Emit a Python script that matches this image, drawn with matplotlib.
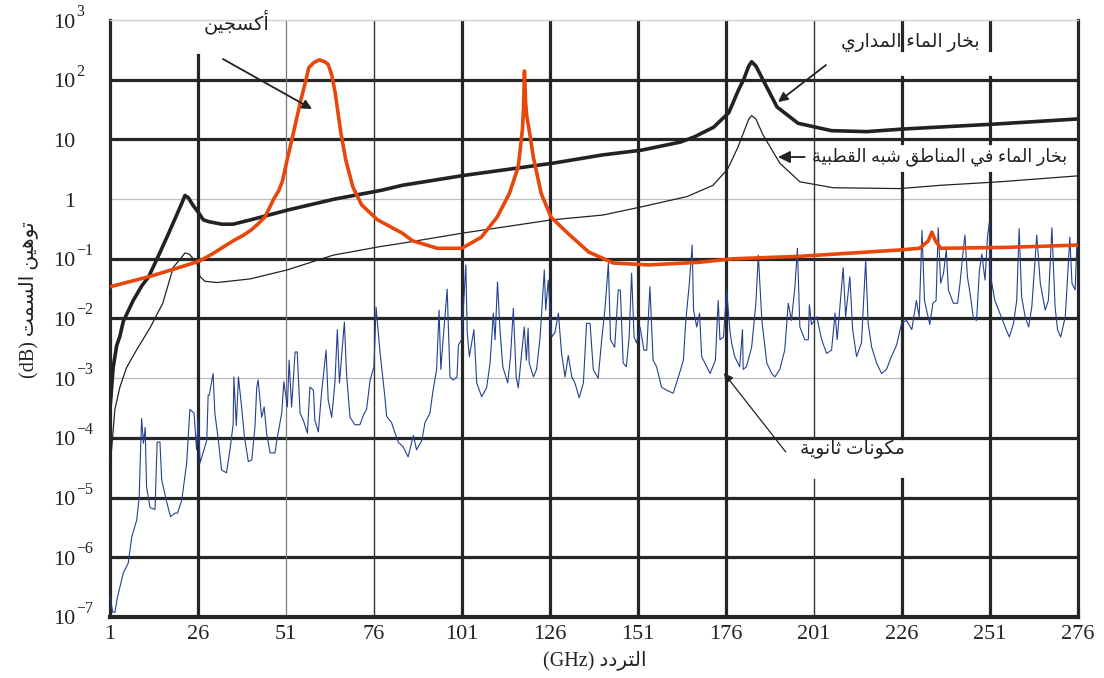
import matplotlib
matplotlib.use("Agg")
import matplotlib.pyplot as plt
from matplotlib.transforms import blended_transform_factory, offset_copy
from matplotlib.ticker import NullLocator

plt.rcParams['font.family'] = ['Liberation Serif', 'DejaVu Sans']

# ---------------- data ----------------
oxy_f = [1, 12, 19.5, 26.5, 30, 33, 36, 39, 41, 43, 45, 46.5, 47.5, 49, 50, 51.5, 53, 55, 56.5, 57.5,
         59, 60.5, 62, 63, 64, 65, 66.5, 68, 70, 72.5, 77, 84, 87, 94, 101, 106.5, 111, 114.5, 117,
         118.2, 118.5, 118.75, 119.1, 119.4, 120.3, 121.3, 123.5, 126.3, 131, 137, 144, 154, 168,
         178, 197, 225, 231, 233.5, 234.5, 235.5, 237, 255, 270, 276]
oxy_v = [0.034, 0.05, 0.068, 0.092, 0.12, 0.155, 0.2, 0.25, 0.3, 0.38, 0.5, 0.75, 1.0, 1.4, 2.0, 5,
         12, 40, 90, 160, 195, 215, 200, 180, 120, 60, 14, 4.5, 1.6, 0.8, 0.45, 0.27, 0.2, 0.15,
         0.15, 0.23, 0.5, 1.25, 3.5, 15, 35, 140, 40, 25, 12, 5, 1.25, 0.5, 0.27, 0.13, 0.085,
         0.079, 0.087, 0.1, 0.11, 0.14, 0.15, 0.2, 0.28, 0.2, 0.15, 0.155, 0.165, 0.17]

trop_f = [1, 1.9, 2.9, 3.8, 4.8, 7.6, 10, 12, 15, 17.7, 20, 21.4, 22.3, 23.3, 24.5, 26.2, 27.5, 29,
          32.7, 36, 41, 51.7, 64.8, 78, 84, 101.7, 126.9, 141, 152, 163, 167, 172.5, 176.8, 179.6,
          181, 182.5, 183.3, 184.5, 186.5, 190.5, 196.5, 206, 216, 227, 252, 276]
trop_v = [3e-4, 1.5e-3, 3.5e-3, 5e-3, 9e-3, 0.02, 0.035, 0.05, 0.12, 0.27, 0.55, 0.85, 1.15, 1.05,
          0.8, 0.59, 0.45, 0.42, 0.38, 0.38, 0.45, 0.66, 1.0, 1.4, 1.7, 2.5, 4.0, 5.5, 6.6, 9, 11,
          16, 28, 68, 100, 170, 200, 170, 100, 35, 18.6, 14, 13.5, 15, 18, 22]

pol_f = [1, 2.4, 3.8, 5.7, 8.6, 12.4, 16, 19, 21, 22.3, 23.5, 25.7, 26.6, 28, 31.4, 40.8, 51.3,
         64.4, 77.7, 83.4, 101.3, 126.6, 141, 151.9, 164.9, 172.3, 176.5, 179.4, 181, 182.5, 183.3,
         184.5, 186.5, 191.3, 197, 206.4, 225.4, 236.8, 253.8, 276]
pol_v = [3e-5, 3e-4, 7e-4, 1.5e-3, 3e-3, 7e-3, 0.018, 0.072, 0.1, 0.125, 0.12, 0.085, 0.05, 0.042,
         0.04, 0.046, 0.065, 0.115, 0.16, 0.18, 0.27, 0.45, 0.54, 0.74, 1.1, 1.7, 3.2, 7.4, 13, 22,
         25, 22, 12, 4, 1.95, 1.55, 1.5, 1.7, 1.95, 2.45]

minor_f = [1.0, 1.8, 2.4, 3.1, 3.6, 4.8, 6.2, 7.2, 8.6, 9.3, 9.7, 10.0, 10.5, 11.0, 11.4, 12.4, 13.8,
           14.4, 15.2, 15.7, 17.1, 18.2, 19.5, 20.2, 21.4, 22.8, 23.7, 24.9, 25.6, 26.1, 26.6, 28.5,
           28.9, 29.2, 30.3, 30.8, 31.8, 32.7, 34.1, 35.1, 36.0, 36.2, 36.9, 37.5, 38.4, 39.2, 40.3,
           41.3, 42.2, 42.7, 43.1, 44.1, 44.8, 45.5, 46.5, 47.9, 48.4, 49.8, 50.4, 51.4, 51.9, 52.6,
           53.6, 54.2, 55.0, 55.9, 57.1, 57.8, 58.8, 59.2, 60.2, 61.1, 62.4, 63.0, 64.0, 64.9, 65.6,
           66.2, 67.6, 68.2, 69.2, 70.6, 72.0, 73.0, 73.9, 74.9, 76.0, 76.6, 77.7, 78.6, 79.1, 79.6,
           81.0, 82.0, 82.9, 84.3, 85.7, 87.2, 88.1, 89.6, 90.5, 91.9, 92.8, 93.8, 94.5, 95.0, 95.7,
           96.8, 97.6, 98.5, 99.6, 100.0, 100.9, 102.1, 102.5, 103.1, 104.4, 105.2, 106.6, 108.0,
           109.0, 109.9, 110.4, 111.1, 111.8, 112.6, 114.0, 114.8, 115.6, 116.4, 117.0, 118.7, 119.3,
           119.8, 120.1, 121.3, 122.2, 123.2, 124.4, 124.8, 125.5, 126.5, 127.4, 128.4, 129.3, 130.3,
           131.2, 132.2, 133.1, 134.3, 135.5, 136.4, 137.4, 138.3, 139.7, 140.7, 141.6, 142.6, 143.2,
           144.4, 145.4, 146.0, 146.8, 147.7, 148.5, 149.2, 149.9, 150.6, 151.6, 152.7, 153.5, 154.4,
           155.3, 156.3, 157.7, 159.1, 161.0, 162.5, 163.9, 164.6, 165.6, 166.4, 166.8, 167.7, 168.5,
           169.1, 170.0, 171.5, 173.0, 173.8, 174.3, 175.3, 176.2, 177.1, 177.6, 178.5, 179.9, 180.7,
           180.9, 181.8, 183.3, 184.5, 185.2, 186.2, 187.6, 189.0, 189.9, 191.3, 192.7, 193.7, 194.6,
           195.6, 196.3, 197.0, 198.4, 199.4, 199.7, 200.3, 201.8, 203.2, 204.6, 206.0, 207.0, 207.6,
           209.3, 210.0, 211.2, 212.0, 213.1, 214.5, 215.7, 216.4, 217.4, 218.8, 220.2, 221.6, 223.0,
           224.5, 225.9, 227.3, 228.8, 230.1, 230.9, 231.7, 232.4, 233.9, 234.8, 235.7, 236.3, 237.0,
           237.8, 238.6, 239.2, 240.6, 241.8, 242.5, 243.3, 243.9, 244.6, 245.5, 246.3, 247.2, 248.0,
           248.7, 249.6, 250.3, 250.8, 251.2, 252.4, 253.8, 255.3, 256.5, 257.7, 258.6, 259.3, 260.0,
           261.0, 262.0, 262.9, 264.3, 265.3, 266.0, 266.7, 267.6, 268.6, 269.5, 270.2, 271.1, 272.4,
           273.7, 274.3, 275.2, 275.7]
minor_v = [2.2e-7, 1.2e-7, 1.2e-7, 2.1e-7, 2.8e-7, 5.5e-7, 8e-7, 2.2e-6, 4.2e-6, 1.0e-5, 6.3e-5,
           2.1e-4, 8.1e-5, 1.5e-4, 1.5e-5, 6.8e-6, 6.3e-6, 8.5e-5, 8.5e-5, 2e-5, 8.5e-6, 4.8e-6,
           5.5e-6, 5.5e-6, 9.1e-6, 3.8e-5, 3e-4, 2.6e-4, 6.3e-5, 2.1e-4, 3.8e-5, 9.1e-5, 5.2e-4,
           5.2e-4, 1.2e-3, 2.6e-4, 9.1e-5, 2.9e-5, 2.6e-5, 6.3e-5, 1.7e-4, 1.05e-3, 1.6e-4, 1.05e-3,
           3.3e-4, 1.05e-4, 4e-5, 4.3e-5, 1.55e-4, 7.1e-4, 9.3e-4, 2.2e-4, 3.3e-4, 1.2e-4, 5.6e-5,
           5.6e-5, 9.1e-5, 2.6e-4, 8.7e-4, 3.3e-4, 2e-3, 3.3e-4, 2.75e-3, 2.75e-3, 2.6e-4, 2e-4,
           1.2e-4, 7.1e-4, 6.3e-4, 2e-4, 1.26e-4, 5.6e-4, 2.95e-3, 4.3e-4, 2.2e-4, 8.3e-4, 6.5e-3,
           8.3e-4, 8.7e-3, 1.2e-3, 2.2e-4, 1.66e-4, 1.66e-4, 2.4e-4, 3e-4, 9.3e-4, 1.55e-3, 0.0155,
           2.8e-3, 9.3e-4, 4.9e-4, 2.3e-4, 1.8e-4, 1.2e-4, 8.5e-5, 7.1e-5, 4.8e-5, 1.1e-4, 6.3e-5,
           9.1e-5, 1.8e-4, 2.6e-4, 6.3e-4, 1.4e-3, 0.0138, 1.4e-3, 4.9e-3, 0.031, 1.05e-3, 9.3e-4,
           1.05e-3, 3.6e-3, 4.4e-3, 0.079, 5.8e-3, 2.3e-3, 6.5e-3, 8.3e-4, 4.9e-4, 6.9e-4, 1.8e-3,
           0.0123, 4.4e-3, 0.041, 6.5e-3, 1.55e-3, 8.3e-4, 2.3e-3, 0.0148, 1.05e-3, 6.9e-4, 7.2e-3,
           2e-3, 6.9e-3, 1.8e-3, 1.05e-3, 1.4e-3, 4.9e-3, 0.065, 0.0138, 0.044, 4.9e-3, 5.8e-3,
           0.0123, 2.6e-3, 1.05e-3, 2.4e-3, 1.05e-3, 8.3e-4, 4.7e-4, 8.3e-4, 8.3e-3, 8.3e-3, 1.4e-3,
           1e-3, 4.4e-3, 0.0138, 0.085, 4.4e-3, 3.3e-3, 0.03, 0.03, 1.8e-3, 1.55e-3, 4.9e-3, 0.0575,
           4.9e-3, 3.9e-3, 7.2e-3, 2.95e-3, 2.95e-3, 0.034, 2e-3, 1.55e-3, 7.1e-4, 6.3e-4, 5.6e-4,
           1.05e-3, 2e-3, 9.3e-3, 0.039, 0.17, 0.0138, 7.2e-3, 0.0123, 2.3e-3, 1.8e-3, 1.2e-3, 2e-3,
           0.02, 4.4e-3, 4.9e-3, 0.03, 6.5e-3, 3.9e-3, 2.3e-3, 1.55e-3, 6.5e-3, 1.4e-3, 1.55e-3,
           3.3e-3, 0.018, 0.115, 9.3e-3, 1.8e-3, 1.2e-3, 1.05e-3, 1.4e-3, 2.95e-3, 0.018, 9.3e-3,
           0.034, 0.15, 7.2e-3, 4.4e-3, 4.4e-3, 0.017, 7.9e-3, 0.0107, 4.4e-3, 2.6e-3, 2.95e-3,
           0.0123, 4.4e-3, 0.071, 0.0107, 0.05, 6.5e-3, 2.3e-3, 3.9e-3, 0.095, 8.3e-3, 3.3e-3,
           1.8e-3, 1.2e-3, 1.4e-3, 2.3e-3, 3.6e-3, 8.3e-3, 9.3e-3, 6.5e-3, 0.02, 0.0107, 0.3, 0.02,
           7.9e-3, 0.018, 0.02, 0.33, 0.039, 0.057, 0.14, 0.03, 0.018, 0.018, 0.039, 0.12, 0.25,
           0.05, 0.023, 0.01, 9.3e-3, 0.063, 0.12, 0.044, 0.23, 0.4, 0.05, 0.02, 0.0123, 7.2e-3,
           4.9e-3, 8.3e-3, 0.02, 0.32, 0.023, 0.0107, 7.2e-3, 0.0158, 0.25, 0.039, 0.023, 0.0138,
           0.02, 0.33, 0.0158, 6.5e-3, 4.9e-3, 0.0107, 0.23, 0.039, 0.03, 0.18]

x_ticks = [1, 26, 51, 76, 101, 126, 151, 176, 201, 226, 251, 276]
y_decades = [-7, -6, -5, -4, -3, -2, -1, 0, 1, 2, 3]

LBL_OXY = "أكسجين"
LBL_TROP = "بخار الماء المداري"
LBL_POLAR = "بخار الماء في المناطق شبه القطبية"
LBL_MINOR = "مكونات ثانوية"
YLABEL = "توهين السمت (dB)"
XLABEL = "التردد (GHz)"

# ---------------- minimal Arabic shaping (presentation forms) ----------------
_AR = {
    '\u0621': (0xFE80, 1), '\u0622': (0xFE81, 2), '\u0623': (0xFE83, 2), '\u0624': (0xFE85, 2),
    '\u0625': (0xFE87, 2), '\u0626': (0xFE89, 4), '\u0627': (0xFE8D, 2), '\u0628': (0xFE8F, 4),
    '\u0629': (0xFE93, 2), '\u062A': (0xFE95, 4), '\u062B': (0xFE99, 4), '\u062C': (0xFE9D, 4),
    '\u062D': (0xFEA1, 4), '\u062E': (0xFEA5, 4), '\u062F': (0xFEA9, 2), '\u0630': (0xFEAB, 2),
    '\u0631': (0xFEAD, 2), '\u0632': (0xFEAF, 2), '\u0633': (0xFEB1, 4), '\u0634': (0xFEB5, 4),
    '\u0635': (0xFEB9, 4), '\u0636': (0xFEBD, 4), '\u0637': (0xFEC1, 4), '\u0638': (0xFEC5, 4),
    '\u0639': (0xFEC9, 4), '\u063A': (0xFECD, 4), '\u0641': (0xFED1, 4), '\u0642': (0xFED5, 4),
    '\u0643': (0xFED9, 4), '\u0644': (0xFEDD, 4), '\u0645': (0xFEE1, 4), '\u0646': (0xFEE5, 4),
    '\u0647': (0xFEE9, 4), '\u0648': (0xFEED, 2), '\u0649': (0xFEEF, 2), '\u064A': (0xFEF1, 4),
}


def _shape_word(w):
    out = []
    n = len(w)
    for i, c in enumerate(w):
        if c not in _AR:
            out.append(c)
            continue
        base, kind = _AR[c]
        prev = w[i - 1] if i > 0 else None
        nxt = w[i + 1] if i < n - 1 else None
        jp = prev in _AR and _AR[prev][1] == 4 and kind >= 2
        jn = kind == 4 and nxt in _AR and _AR[nxt][1] >= 2
        if jp and jn:
            k = 3
        elif jp:
            k = 1
        elif jn:
            k = 2
        else:
            k = 0
        out.append(chr(base + k))
    return ''.join(out)


def ar(text):
    vis = []
    for w in text.split(' ')[::-1]:
        if any('\u0600' <= ch <= '\u06FF' for ch in w):
            vis.append(_shape_word(w)[::-1])
        else:
            vis.append(w)
    return ' '.join(vis)


# ---------------- figure ----------------
DARK = '#262626'
TXT = '#222222'
fig = plt.figure(figsize=(11.04, 6.78), dpi=100)
ax = fig.add_axes([0.0996, 0.090, 0.8768, 0.8805])
ax.set_yscale('log')
ax.set_xlim(1, 276)
ax.set_ylim(1e-7, 1e3)

# grid (drawn by hand, as in the reference)
for d in [2, 1, -1, -2, -4, -5, -6]:
    ax.axhline(10.0 ** d, color=DARK, lw=2.3, zorder=1)
for d in [0, -3]:
    ax.axhline(10.0 ** d, color='#bdbdbd', lw=0.9, zorder=1)

ax.axvline(26, 0, 0.941, color=DARK, lw=2.3, zorder=1)
ax.axvline(51, color='#7a7a7a', lw=0.9, zorder=1)
ax.axvline(76, color='#333333', lw=1.0, zorder=1)
for xv in [101, 126, 151, 176]:
    ax.axvline(xv, color=DARK, lw=2.3, zorder=1)
for a, b in [(0, 0.231), (0.300, 1)]:
    ax.axvline(201, a, b, color='#333333', lw=1.0, zorder=1)
for a, b in [(0, 0.231), (0.300, 0.744), (0.794, 0.905), (0.950, 1)]:
    ax.axvline(226, a, b, color=DARK, lw=2.3, zorder=1)
for a, b in [(0, 0.744), (0.794, 0.905), (0.950, 1)]:
    ax.axvline(251, a, b, color=DARK, lw=2.3, zorder=1)

# curves
ax.plot(minor_f, minor_v, color='#24418F', lw=0.8, zorder=3)
ax.plot(pol_f, pol_v, color='#222222', lw=0.9, zorder=4)
ax.plot(trop_f, trop_v, color='#222222', lw=2.6, zorder=5)
ax.plot(oxy_f, oxy_v, color='#E8470C', lw=2.6, zorder=6)

# spines
for s in ['left', 'right']:
    ax.spines[s].set_color(DARK)
    ax.spines[s].set_linewidth(2.3)
ax.spines['bottom'].set_color(DARK)
ax.spines['bottom'].set_linewidth(3.0)
ax.spines['top'].set_color('#d0d0d0')
ax.spines['top'].set_linewidth(1.0)

# ticks
ax.set_xticks(x_ticks)
ax.set_xticklabels([str(t) for t in x_ticks], fontsize=16, color=TXT)
ax.tick_params(axis='x', length=0, pad=6)
ax.yaxis.set_minor_locator(NullLocator())
ax.set_yticks([10.0 ** d for d in y_decades])
ax.set_yticklabels([])
ax.tick_params(axis='y', length=0)

trans = blended_transform_factory(ax.transAxes, ax.transData)
xr = -(110 - 75) / 970.0
for d in y_decades:
    base = offset_copy(trans, fig=fig, x=0, y=-3, units='dots')
    if d == 0:
        ax.text(xr, 1.0, '1', transform=base, ha='right', va='center', fontsize=16, color=TXT)
    elif d == 1:
        ax.text(xr, 10.0, '10', transform=base, ha='right', va='center', fontsize=16, color=TXT)
    else:
        ax.text(xr, 10.0 ** d, '10', transform=base, ha='right', va='center', fontsize=16, color=TXT)
        sup = offset_copy(trans, fig=fig, x=1, y=8, units='dots')
        ax.text(xr, 10.0 ** d, str(d).replace('-', '\u2212'), transform=sup, ha='left', va='center',
                fontsize=11.5, color=TXT)

# axis titles
fig.text(28 / 1104, 1 - 300 / 678, ar(YLABEL), rotation=90, ha='center', va='center', fontsize=14.5,
         color=TXT)
fig.text(595 / 1104, 1 - 660 / 678, ar(XLABEL), ha='center', va='center', fontsize=14.5, color=TXT)

# annotations
arrow_kw = dict(arrowstyle='-|>', color=TXT, lw=1.3, mutation_scale=14, shrinkA=0, shrinkB=0)
ax.text(37.0, 925, ar(LBL_OXY), ha='center', va='center', fontsize=14, color=TXT, zorder=8)
ax.annotate('', xy=(58.4, 32.3), xytext=(33.1, 222), arrowprops=arrow_kw, zorder=8)

ax.text(228.3, 412, ar(LBL_TROP), ha='center', va='center', fontsize=13.5, color=TXT, zorder=8)
ax.annotate('', xy=(190.8, 42.3), xytext=(204.4, 176), arrowprops=arrow_kw, zorder=8)

ax.text(236.6, 5.07, ar(LBL_POLAR), ha='center', va='center', fontsize=12.8, color=TXT, zorder=8)
ax.annotate('', xy=(190.8, 5.07), xytext=(198.4, 5.07), arrowprops=dict(arrow_kw, mutation_scale=18),
            zorder=8)

ax.text(211.8, 6.3e-5, ar(LBL_MINOR), ha='center', va='center', fontsize=13.5, color=TXT, zorder=8)
ax.annotate('', xy=(175.4, 1.22e-3), xytext=(193.0, 5.8e-5), arrowprops=dict(arrow_kw, lw=0.9),
            zorder=8)

fig.savefig('out.png', dpi=100)
